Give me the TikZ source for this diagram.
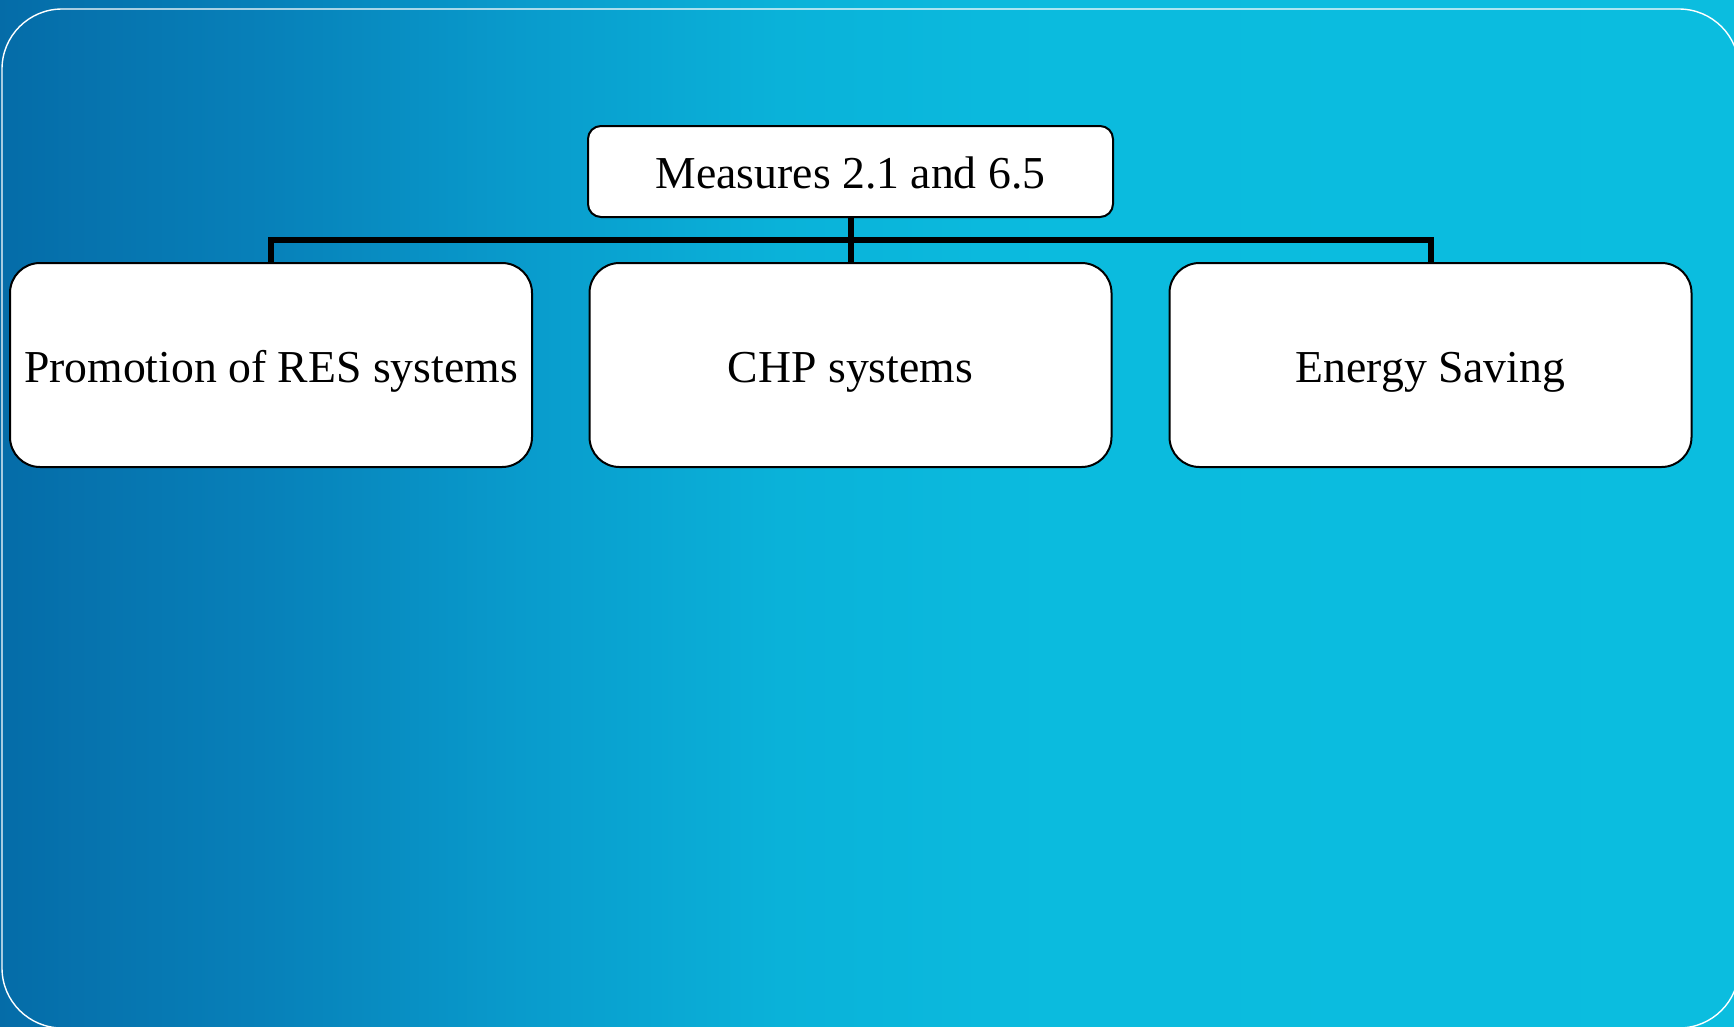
\documentclass[tikz,border=0pt]{standalone}
\usepackage{fontspec}
\setmainfont{Liberation Serif}

% horizontal blue-to-cyan background; the path spans 25bp..75bp of the shading
\pgfdeclarehorizontalshading{bgshade}{100bp}{%
  rgb(0bp)=(0.020,0.424,0.659);
  rgb(25bp)=(0.020,0.424,0.659);
  rgb(32.5bp)=(0.027,0.502,0.725);
  rgb(40bp)=(0.035,0.608,0.800);
  rgb(47.5bp)=(0.039,0.698,0.851);
  rgb(55bp)=(0.043,0.733,0.871);
  rgb(75bp)=(0.043,0.741,0.875);
  rgb(100bp)=(0.043,0.741,0.875)}

\tikzset{
  labeltext/.style={font=\fontsize{45.7}{55}\selectfont, text height=34pt, text depth=0pt,
    inner sep=2pt, align=center},
  topbox/.style={labeltext, draw=black, fill=white, line width=2pt, rounded corners=13pt,
    minimum width=525pt, minimum height=91pt},
  subbox/.style={labeltext, draw=black, fill=white, line width=2pt, rounded corners=30pt,
    minimum width=522pt, minimum height=204pt},
  conn/.style={draw=black, line width=6pt, line join=miter},
}

\begin{document}
\begin{tikzpicture}[x=1pt, y=-1pt]
\useasboundingbox (0,0) rectangle (1734,1026);
\shade[shading=bgshade] (0,0) rectangle (1734,1026);
\draw[white, line width=1.4pt, rounded corners=60pt] (2,9) rectangle (1739,1028);

\node[topbox] (top) at (850.5,171.5) {Measures 2.1 and 6.5};
\node[subbox] (res) at (271,365) {Promotion of RES systems};
\node[subbox] (chp) at (850.5,365) {CHP systems};
\node[subbox] (es) at (1430.5,365) {Energy Saving};
\coordinate (bus) at (850.5,240);

\draw[conn] (top.south) -- (chp.north);
\draw[conn] (res.north) -- (res.north |- bus) -- (es.north |- bus) -- (es.north);
\end{tikzpicture}
\end{document}
